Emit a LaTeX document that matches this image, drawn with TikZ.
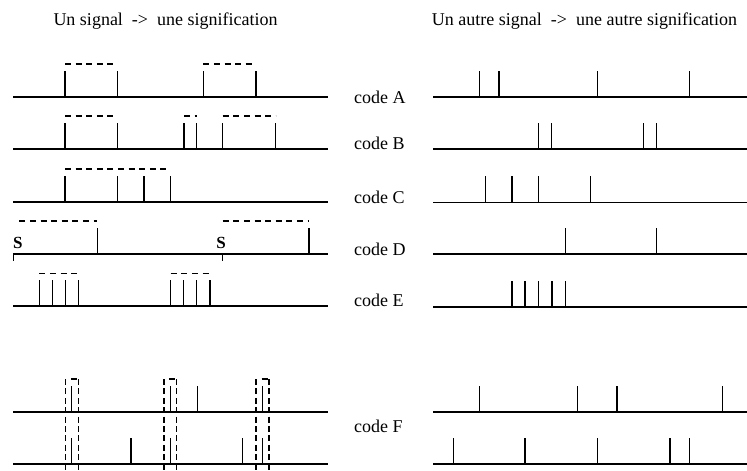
\documentclass[tikz,border=0pt]{standalone}
\usepackage{fontspec}
\setmainfont{Liberation Serif}
\begin{document}
\begin{tikzpicture}[x=1pt,y=-1pt,
  base/.style={line width=1.6pt},
  pulse/.style={line width=1.5pt},
  dsh/.style={line width=1.2pt,dash pattern=on 6pt off 4.6pt},
  boxdash/.style={line width=1.2pt,dash pattern=on 6pt off 3.4pt},
  lbl/.style={inner sep=0pt,anchor=base west,font=\fontsize{18}{21}\selectfont},
  slbl/.style={inner sep=0pt,anchor=base,font=\fontsize{17}{20}\selectfont\bfseries}]
\useasboundingbox (0,0) rectangle (747,471);
\clip (0,0) rectangle (747,471);
% titles
\node[lbl] (t1) at (53.3,25.5) {Un signal\ \ ->\ \ une signification};
\node[lbl] (t2) at (431.7,25.5) {Un autre signal\ \ ->\ \ une autre signification};
% code labels
\node[lbl] (cA) at (354,103.5) {code A};
\node[lbl] (cB) at (354,149) {code B};
\node[lbl] (cC) at (354,203) {code C};
\node[lbl] (cD) at (354,255) {code D};
\node[lbl] (cE) at (354,306.5) {code E};
\node[lbl] (cF) at (354,432.5) {code F};
% left baselines
\foreach \y in {97,149,201.7,254,305.7,411.7,464} \draw[base] (13,\y) -- (328,\y);
% right baselines
\foreach \y in {96.7,149,202.3,254,306.7,411.7,464} \draw[base] (433.3,\y) -- (747,\y);
% ---- left side ----
% A
\foreach \x in {65,117.3,203.3,256} \draw[pulse] (\x,97) -- (\x,70.7);
\draw[dsh] (65,64) -- (117.3,64);
\draw[dsh] (203.3,64) -- (256,64);
% B
\foreach \x in {65,117.3,184,196.7,222.7,275.7} \draw[pulse] (\x,149) -- (\x,122.7);
\draw[dsh] (65,116) -- (117.3,116);
\draw[dsh] (184,116) -- (196.7,116);
\draw[dsh] (222.7,116) -- (275.7,116);
% C
\foreach \x in {65,117.7,144,170.7} \draw[pulse] (\x,201.7) -- (\x,175.7);
\draw[dsh] (65,169) -- (170.7,169);
% D
\foreach \x in {97.7,309} \draw[pulse] (\x,254) -- (\x,228.3);
\draw[dsh] (19.3,221) -- (97,221);
\draw[dsh] (222.7,221) -- (309,221);
\draw[pulse] (13.3,254) -- (13.3,260.7);
\draw[pulse] (222.7,254) -- (222.7,260.7);
\node[slbl] (s1) at (17.8,248) {S};
\node[slbl] (s2) at (221,248) {S};
% E
\foreach \x in {39.3,52.3,65.7,78.7,170.7,183.3,196.7,210} \draw[pulse] (\x,305.7) -- (\x,280);
\draw[dsh] (39.3,273.3) -- (80,273.3);
\draw[dsh] (170.7,273.3) -- (211,273.3);
% F
\foreach \x in {71.7,170.7,197.3,262.7} \draw[pulse] (\x,411.7) -- (\x,386);
\foreach \x in {71.7,131,170.7,242.7,262.7} \draw[pulse] (\x,464) -- (\x,438.3);
\foreach \l/\r/\a/\b in {65.7/78.5/71/77,164/176.7/169/174.5,256/269/261.7/267.7}{
  \draw[boxdash] (\l,379) -- (\l,480);
  \draw[boxdash] (\r,379) -- (\r,480);
  \draw[line width=1.2pt] (\a,379) -- (\b,379);
}
% ---- right side ----
\foreach \x in {479.3,499,597.7,689.3} \draw[pulse] (\x,96.7) -- (\x,70.7);
\foreach \x in {538.7,551.7,643.7,656.7} \draw[pulse] (\x,149) -- (\x,122.7);
\foreach \x in {485.7,512,538.7,590.7} \draw[pulse] (\x,202.3) -- (\x,175.7);
\foreach \x in {565.3,656.7} \draw[pulse] (\x,254) -- (\x,228.3);
\foreach \x in {512,525,538.7,552,565.3} \draw[pulse] (\x,306.7) -- (\x,280.7);
\foreach \x in {479.3,577.7,617,722.3} \draw[pulse] (\x,411.7) -- (\x,386);
\foreach \x in {453.3,525,597.7,670,689.3} \draw[pulse] (\x,464) -- (\x,438.3);
\end{tikzpicture}
\end{document}
